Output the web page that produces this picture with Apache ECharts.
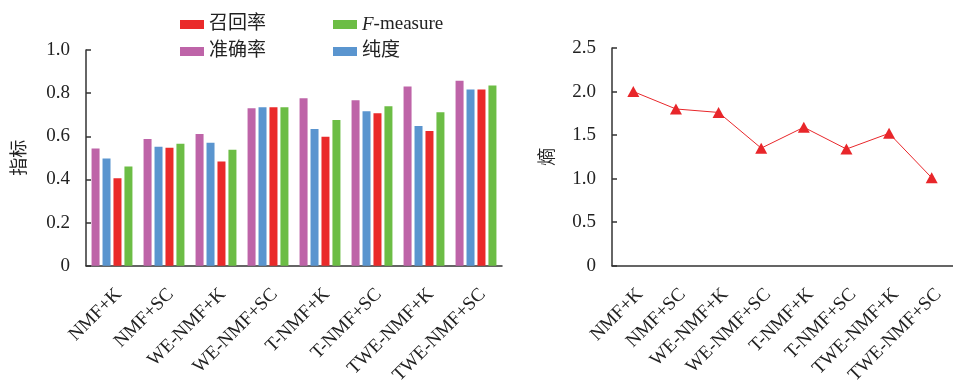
<!DOCTYPE html>
<html><head><meta charset="utf-8">
<script src="https://cdn.jsdelivr.net/npm/echarts@6/dist/echarts.min.js"></script>
<style>html,body{margin:0;padding:0;background:#fff}#c{width:953px;height:387px}</style>
</head><body><div id="c"></div>
<script>
const categories = ['NMF+K','NMF+SC','WE-NMF+K','WE-NMF+SC','T-NMF+K','T-NMF+SC','TWE-NMF+K','TWE-NMF+SC'];
const accuracy = [0.543,0.588,0.611,0.730,0.776,0.767,0.831,0.858];
const purity   = [0.497,0.552,0.570,0.735,0.634,0.716,0.648,0.817];
const recall   = [0.405,0.547,0.483,0.735,0.598,0.707,0.625,0.817];
const fmeasure = [0.460,0.566,0.538,0.735,0.675,0.739,0.712,0.835];
const entropy  = [2.00,1.80,1.76,1.35,1.59,1.34,1.52,1.01];
const leftTicks = ['0','0.2','0.4','0.6','0.8','1.0'];
const rightTicks = ['0','0.5','1.0','1.5','2.0','2.5'];

const FONT = "'Liberation Serif','Noto Sans CJK SC',serif";
const AX = '#333';
const chart = echarts.init(document.getElementById('c'));
function xAxisCfg(gi){
  return {type:'category', gridIndex:gi, data:categories,
    axisLine:{lineStyle:{color:AX,width:1.5}},
    axisTick:{alignWithLabel:true, inside:true, length:5, lineStyle:{color:AX,width:1.5}},
    axisLabel:{rotate:45, margin:19, verticalAlign:'top', interval:0, color:'#222', fontFamily:FONT, fontSize:19}};
}
function yAxisCfg(gi, max, interval, ticks, name, gap){
  return {type:'value', gridIndex:gi, min:0, max:max, interval:interval,
    name:name, nameLocation:'middle', nameRotate:90, nameGap:gap,
    nameTextStyle:{fontFamily:FONT, fontSize:18, color:'#222'},
    splitLine:{show:false},
    axisLine:{show:true, lineStyle:{color:AX,width:1.5}},
    axisTick:{show:true, inside:true, length:5, lineStyle:{color:AX,width:1.5}},
    axisLabel:{margin:16, color:'#222', fontFamily:FONT, fontSize:19,
      formatter:function(v){ return ticks[Math.round(v/interval)]; }}};
}
const legendBase = {icon:'rect', itemWidth:24, itemHeight:9, itemGap:67, left:175,
  textStyle:{fontFamily:FONT, fontSize:19, color:'#222', rich:{i:{fontStyle:'italic', fontFamily:FONT, fontSize:19, color:'#222'}}},
  formatter:function(n){ return n==='F-measure' ? '{i|F}-measure' : n; }};
const colors = {acc:'#be64a8', pur:'#5a95cf', rec:'#ea2a2a', f:'#6cbd45'};
function bar(name, data, color){
  return {type:'bar', name:name, data:data, xAxisIndex:0, yAxisIndex:0,
    barWidth:8, barGap:'37%', itemStyle:{color:color}};
}
chart.setOption({
  animation:false,
  legend:[
    Object.assign({}, legendBase, {top:10, data:['召回率','F-measure']}),
    Object.assign({}, legendBase, {top:37, data:['准确率','纯度']})
  ],
  grid:[
    {left:86, top:50, width:416, bottom:118},
    {left:612, top:48, width:347, bottom:118}
  ],
  xAxis:[xAxisCfg(0), xAxisCfg(1)],
  yAxis:[yAxisCfg(0,1.0,0.2,leftTicks,'指标',57), yAxisCfg(1,2.5,0.5,rightTicks,'熵',55)],
  series:[
    bar('准确率', accuracy, colors.acc),
    bar('纯度', purity, colors.pur),
    bar('召回率', recall, colors.rec),
    bar('F-measure', fmeasure, colors.f),
    {type:'line', name:'熵', data:entropy, xAxisIndex:1, yAxisIndex:1,
      symbol:'triangle', symbolSize:[12,11], lineStyle:{color:'#e8262a', width:1},
      itemStyle:{color:'#e8262a'}}
  ]
});
</script></body></html>
